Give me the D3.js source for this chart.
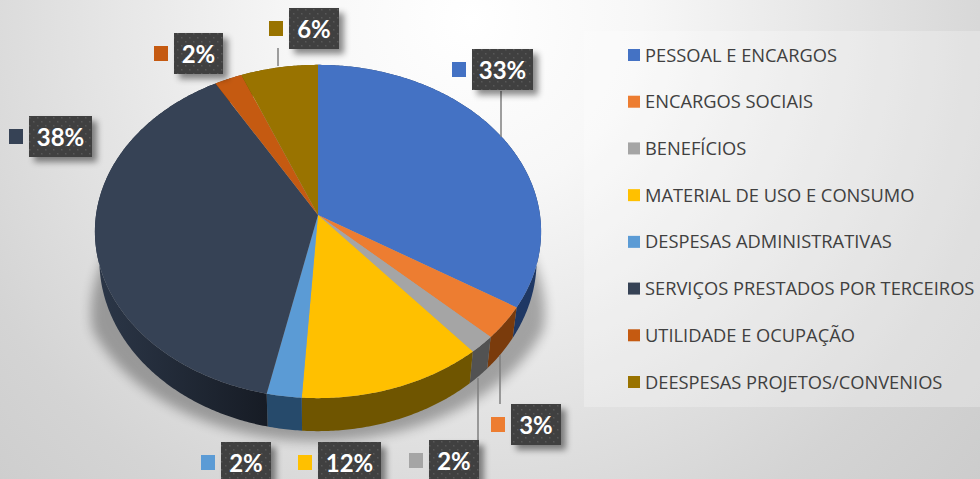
<!DOCTYPE html>
<html>
<head>
<meta charset="utf-8">
<style>
  html, body { margin: 0; padding: 0; overflow: hidden; background: #fff; }
</style>
<script src="https://cdn.jsdelivr.net/npm/d3@7"></script>
</head>
<body>
<div id="chart"></div>
<script>
// values (slice sizes), labels as printed on the chart
const categories = ["PESSOAL E ENCARGOS", "ENCARGOS SOCIAIS", "BENEFÍCIOS", "MATERIAL DE USO E CONSUMO",
  "DESPESAS ADMINISTRATIVAS", "SERVIÇOS PRESTADOS POR TERCEIROS", "UTILIDADE E OCUPAÇÃO", "DEESPESAS PROJETOS/CONVENIOS"];
const values = [33.9, 3.2, 1.75, 12.2, 2.3, 38.3, 2.2, 6.15];
const pctLabels = ["33%", "3%", "2%", "12%", "2%", "38%", "2%", "6%"];
const colors = ["#4472c4", "#ed7d31", "#a5a5a5", "#ffc000", "#5b9bd5", "#364255", "#c55a11", "#997300"];
const sideColors = ["#1f3864", "#7a3b0c", "#525252", "#6f5500", "#264a6b", "url(#navySide)", "#7a3b0c", "#6b5200"];

const width = 980, height = 479;

const svg = d3.select("#chart").append("svg")
  .attr("width", width)
  .attr("height", height)
  .style("display", "block")
  .style("font-family", "'Open Sans', sans-serif");

const defs = svg.append("defs");

// ---- background ----
const bg = defs.append("radialGradient").attr("id", "bg")
  .attr("gradientUnits", "userSpaceOnUse")
  .attr("cx", 470).attr("cy", 20).attr("r", 690);
bg.append("stop").attr("offset", "0").attr("stop-color", "#ffffff");
bg.append("stop").attr("offset", "0.25").attr("stop-color", "#f7f7f7");
bg.append("stop").attr("offset", "0.8").attr("stop-color", "#d4d4d4");
bg.append("stop").attr("offset", "1").attr("stop-color", "#cccccc");

svg.append("rect").attr("width", width).attr("height", height).attr("fill", "url(#bg)");

// ---- filters, gradients and pattern ----
const boxShadow = defs.append("filter").attr("id", "boxShadow")
  .attr("x", "-30%").attr("y", "-30%").attr("width", "170%").attr("height", "170%");
boxShadow.append("feDropShadow")
  .attr("dx", 5).attr("dy", 5).attr("stdDeviation", 3)
  .attr("flood-color", "#000").attr("flood-opacity", 0.45);

defs.append("filter").attr("id", "pieBlur")
  .attr("x", "-20%").attr("y", "-20%").attr("width", "140%").attr("height", "140%")
  .append("feGaussianBlur").attr("stdDeviation", 6);

const navySide = defs.append("linearGradient").attr("id", "navySide")
  .attr("gradientUnits", "userSpaceOnUse")
  .attr("x1", 100).attr("y1", 0).attr("x2", 270).attr("y2", 0);
navySide.append("stop").attr("offset", "0").attr("stop-color", "#2b3647");
navySide.append("stop").attr("offset", "1").attr("stop-color", "#161b24");

const dots = defs.append("pattern").attr("id", "dots")
  .attr("patternUnits", "userSpaceOnUse")
  .attr("width", 8).attr("height", 8);
dots.append("rect").attr("width", 8).attr("height", 8).attr("fill", "#3f3f3f");
dots.append("rect").attr("x", 1).attr("y", 1).attr("width", 1.5).attr("height", 1.5).attr("fill", "#595959");
dots.append("rect").attr("x", 5).attr("y", 5).attr("width", 1.5).attr("height", 1.5).attr("fill", "#595959");

// ---- pie, tilted with a small perspective ----
const cx = 318, apexY = 215, radiusX = 222, radiusY = 165, persp = 0.099;

function rim(angle, drop) {
  const u = Math.sin(angle), v = -Math.cos(angle);
  const w = 1 - persp * v;
  const x = radiusX * u / w, y = apexY + radiusY * v / w;
  // the lower rim sits a bit further away, so it is a little narrower
  return drop ? [cx + x * 0.98, y + 28 + 5 * v] : [cx + x, y];
}

const line = d3.line();
const arcs = d3.pie().sort(null)(values);

function arcAngles(d) {
  const n = Math.ceil((d.endAngle - d.startAngle) / 0.01);
  return d3.range(n + 1).map(i => d.startAngle + (d.endAngle - d.startAngle) * i / n);
}

// soft shadow under the pie, it only fans out below the middle of the pie
const spread = d3.scaleLinear().domain([235, 320]).range([0.96, 1.1]).clamp(true);
const whole = d3.range(0, 2 * Math.PI, 0.02).map(a => rim(a, true));
svg.append("path")
  .attr("d", line(whole.map(p => [cx + (p[0] - cx) * spread(p[1]), p[1] + 10])) + "Z")
  .attr("fill", "#000")
  .attr("opacity", 0.3)
  .attr("filter", "url(#pieBlur)");

// side wall
svg.append("g").selectAll("path")
  .data(arcs)
  .join("path")
    .attr("d", d => {
      const as = arcAngles(d);
      return line(as.map(a => rim(a, false)).concat(as.slice().reverse().map(a => rim(a, true)))) + "Z";
    })
    .attr("fill", (d, i) => sideColors[i]);

// top face
svg.append("g").selectAll("path")
  .data(arcs)
  .join("path")
    .attr("d", d => line([[cx, apexY]].concat(arcAngles(d).map(a => rim(a, false)))) + "Z")
    .attr("fill", (d, i) => colors[i]);

// ---- leader lines ----
const leaders = [
  [[501, 91], [501, 137]],
  [[500, 355], [500, 404]],
  [[478, 378], [478, 440]],
  [[278, 48], [278, 66]]
];
svg.append("g").selectAll("path")
  .data(leaders)
  .join("path")
    .attr("d", line)
    .attr("fill", "none")
    .attr("stroke", "#7f7f7f")
    .attr("stroke-width", 1.5);

// ---- data labels ----
const boxLeft = [472, 511, 429, 318, 221, 29, 174, 289];
const boxTop = [49, 404, 440, 442, 442, 116, 33, 8];
const boxWidth = [61, 50, 50, 63, 50, 63, 49, 50];

const label = svg.append("g").selectAll("g")
  .data(pctLabels)
  .join("g");

label.append("rect")
  .attr("x", (d, i) => boxLeft[i])
  .attr("y", (d, i) => boxTop[i])
  .attr("width", (d, i) => boxWidth[i])
  .attr("height", 41)
  .attr("fill", "url(#dots)")
  .attr("filter", "url(#boxShadow)");

label.append("rect")
  .attr("x", (d, i) => boxLeft[i] - 20)
  .attr("y", (d, i) => boxTop[i] + 13)
  .attr("width", 14)
  .attr("height", 15)
  .attr("fill", (d, i) => colors[i]);

label.append("text")
  .attr("x", (d, i) => boxLeft[i] + boxWidth[i] / 2)
  .attr("y", (d, i) => boxTop[i] + 30)
  .attr("text-anchor", "middle")
  .attr("fill", "#fff")
  .style("font-family", "Lato, sans-serif")
  .style("font-weight", 700)
  .style("font-size", "24px")
  .text(d => d);

// ---- legend ----
svg.append("rect")
  .attr("x", 584).attr("y", 31)
  .attr("width", 396).attr("height", 376)
  .attr("fill", "#fff")
  .attr("opacity", 0.25);

const legendY = d3.scalePoint().domain(categories).range([55, 382]);

const legend = svg.append("g").selectAll("g")
  .data(categories)
  .join("g")
    .attr("transform", d => `translate(628,${legendY(d)})`);

legend.append("rect")
  .attr("y", -6).attr("width", 12).attr("height", 12)
  .attr("fill", (d, i) => colors[i]);

legend.append("text")
  .attr("x", 17)
  .attr("y", 6.5)
  .attr("fill", "#404040")
  .style("font-size", "18.3px")
  .text(d => d);
</script>
</body>
</html>
